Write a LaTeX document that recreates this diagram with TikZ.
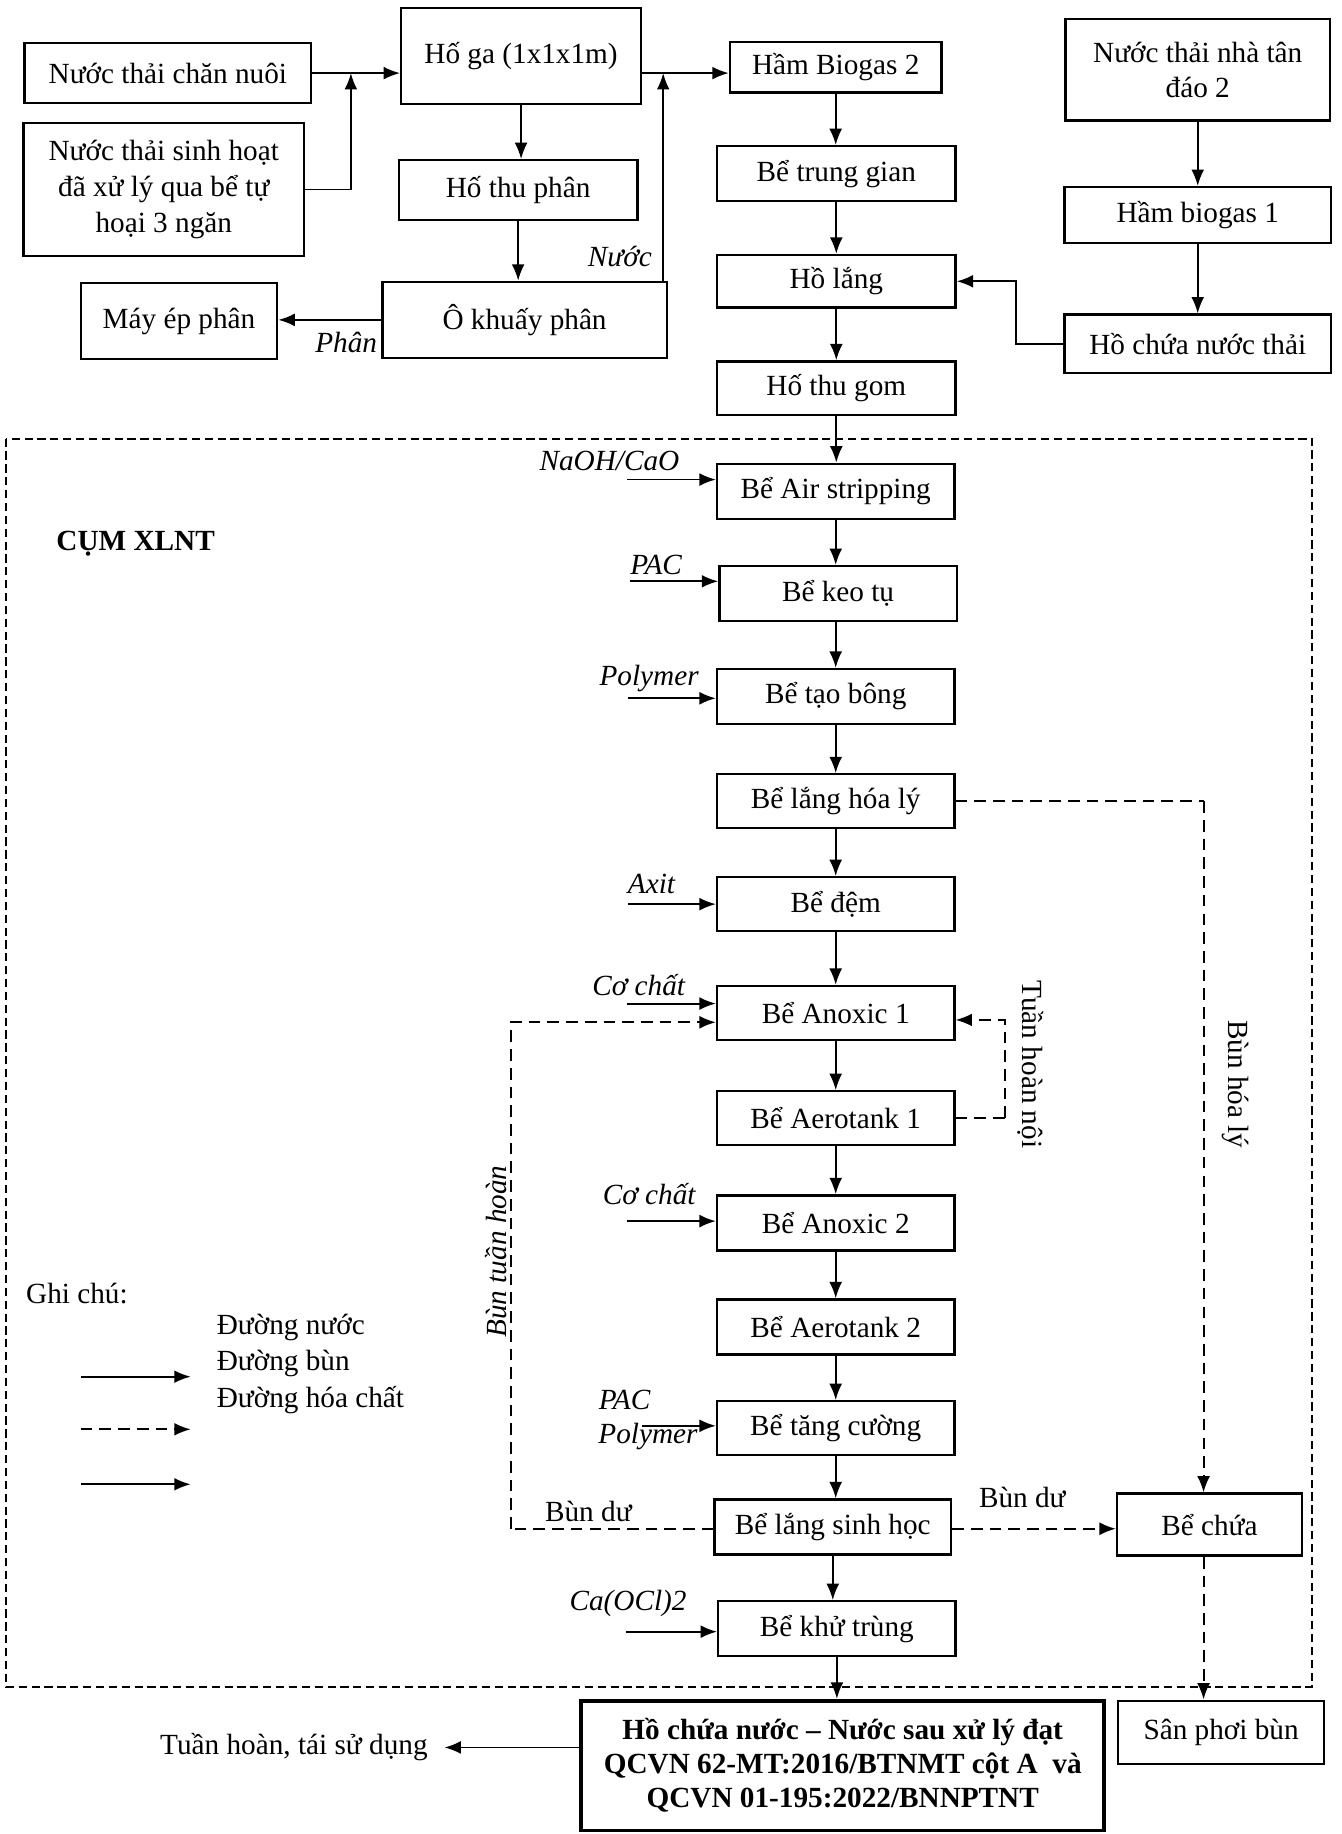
\documentclass[tikz,border=0pt]{standalone}
\usepackage{fontspec}
\setmainfont{Liberation Serif}
\usetikzlibrary{arrows.meta}
\begin{document}
\begin{tikzpicture}[x=0.5pt,y=-0.5pt,
 font=\fontsize{12.5}{15}\selectfont,
 box/.style={draw,line width=1pt,inner sep=0pt,align=center},
 pbox/.style={box,minimum width=101.5pt,minimum height=23.5pt},
 arr/.style={line width=0.8pt,-{Latex[length=7pt,width=5.5pt]}},
 ln/.style={line width=0.8pt},
 dsh/.style={line width=0.8pt,dash pattern=on 5pt off 3pt},
 darr/.style={dsh,-{Latex[length=7pt,width=5.5pt]}},
 outer/.style={line width=0.8pt,dash pattern=on 3.5pt off 2pt},
 lbl/.style={font=\fontsize{12.5}{15}\selectfont\itshape,inner sep=0pt},
 txt/.style={inner sep=0pt},
]
\useasboundingbox (0,0) rectangle (1147,1568);

% ---------- top left ----------
\node[box,minimum width=122.5pt,minimum height=25.5pt] (b1) at (143.5,62.5) {Nước thải chăn nuôi};
\node[box,minimum width=120pt,minimum height=57pt,font=\fontsize{12.5}{15.5}\selectfont] (b2) at (140,162) {Nước thải sinh hoạt\\đã xử lý qua bể tự\\hoại 3 ngăn};
\node[box,minimum width=102.5pt,minimum height=41pt] (hoga) at (445.5,48) {Hố ga (1x1x1m)};
\node[box,minimum width=102pt,minimum height=25.5pt] (hothu) at (443,162.5) {Hố thu phân};
\node[box,minimum width=121.5pt,minimum height=32.5pt] (okhuay) at (448.5,273.5) {Ô khuấy phân};
\node[box,minimum width=84pt,minimum height=32.5pt] (mayep) at (153,274.5) {Máy ép phân};

\coordinate (J) at (300,62.5);
\draw[arr] (b1.east) -- (b1.east -| hoga.west);
\draw[arr] (b2.east) -- (b2.east -| J) -- (J);
\draw[arr] (hoga.south) -- (hoga.south |- hothu.north);
\draw[arr] (hothu.south) -- (hothu.south |- okhuay.north);
\draw[arr] (okhuay.west) -- (okhuay.west -| mayep.east);
\node[lbl] (phan) at (296,293) {Phân};

% ---------- top middle ----------
\node[box,minimum width=90.5pt,minimum height=21.5pt] (biogas2) at (714.5,57.5) {Hầm Biogas 2};
\node[box,minimum width=102pt,minimum height=23.5pt] (trunggian) at (715,148.5) {Bể trung gian};
\node[box,minimum width=102pt,minimum height=22.5pt] (holang) at (715,240.5) {Hồ lắng};
\node[box,minimum width=102pt,minimum height=23pt] (thugom) at (715,332) {Hố thu gom};

\coordinate (N1) at (567,62.5);
\draw[arr] (hoga.east |- b1.east) -- (biogas2.west |- b1.east);
\draw[arr] (okhuay.north -| N1) -- (N1);
\node[lbl] (nuoc) at (530,219) {Nước};

\draw[arr] (biogas2.south) -- (biogas2.south |- trunggian.north);
\draw[arr] (trunggian.south) -- (trunggian.south |- holang.north);
\draw[arr] (holang.south) -- (holang.south |- thugom.north);

% ---------- top right ----------
\node[box,minimum width=113pt,minimum height=43.5pt] (tandao) at (1024,59.5) {Nước thải nhà tân\\đáo 2};
\node[box,minimum width=114pt,minimum height=24pt] (biogas1) at (1024,184) {Hầm biogas 1};
\node[box,minimum width=114pt,minimum height=25pt] (hochua) at (1024,294) {Hồ chứa nước thải};
\draw[arr] (tandao.south) -- (biogas1.north);
\draw[arr] (biogas1.south) -- (hochua.north);
\draw[arr] (hochua.west) -- ++(-40,0) |- (holang.east);

% ---------- outer cluster ----------
\draw[outer] (5,375) rectangle (1122,1442);
\node[txt,font=\fontsize{12.5}{15}\selectfont\bfseries] (cum) at (116,465) {CỤM XLNT};

% ---------- process column ----------
\node[pbox] (air) at (714.5,420) {Bể Air stripping};
\node[pbox] (keotu) at (716.5,507.5) {Bể keo tụ};
\node[pbox] (taobong) at (714.5,595.5) {Bể tạo bông};
\node[pbox,minimum height=23pt] (langhl) at (714.5,685) {Bể lắng hóa lý};
\node[pbox,minimum height=23pt] (dem) at (714.5,773) {Bể đệm};
\node[pbox,minimum height=23pt] (anox1) at (714.5,866) {Bể Anoxic 1};
\node[pbox,minimum height=23pt] (aero1) at (714.5,956) {Bể Aerotank 1};
\node[pbox] (anox2) at (714.5,1045.5) {Bể Anoxic 2};
\node[pbox] (aero2) at (714.5,1134.5) {Bể Aerotank 2};
\node[pbox,minimum height=23pt] (tang) at (714.5,1221) {Bể tăng cường};
\node[pbox,minimum width=101pt] (langsh) at (712,1305.5) {Bể lắng sinh học};
\node[pbox] (khu) at (715.5,1392.5) {Bể khử trùng};
\node[box,minimum width=223.5pt,minimum height=55.5pt,line width=1.6pt,
      font=\fontsize{12.5}{14.5}\selectfont\bfseries] (hcn) at (720.5,1509.5)
      {Hồ chứa nước – Nước sau xử lý đạt\\QCVN 62-MT:2016/BTNMT cột A\ \ và\\QCVN 01-195:2022/BNNPTNT};
\node[box,minimum width=79pt,minimum height=26.5pt] (bechua) at (1034,1303.5) {Bể chứa};
\node[box,minimum width=88pt,minimum height=27pt] (sanphoi) at (1044,1481) {Sân phơi bùn};

\draw[arr] (thugom.south) -- (thugom.south |- air.north);
\draw[arr] (air.south) -- (air.south |- keotu.north);
\draw[arr] (keotu.south -| air.south) -- (air.south |- taobong.north);
\draw[arr] (taobong.south) -- (taobong.south |- langhl.north);
\draw[arr] (langhl.south) -- (langhl.south |- dem.north);
\draw[arr] (dem.south) -- (dem.south |- anox1.north);
\draw[arr] (anox1.south) -- (anox1.south |- aero1.north);
\draw[arr] (aero1.south) -- (aero1.south |- anox2.north);
\draw[arr] (anox2.south) -- (anox2.south |- aero2.north);
\draw[arr] (aero2.south) -- (aero2.south |- tang.north);
\draw[arr] (tang.south) -- (tang.south |- langsh.north);
\draw[arr] (langsh.south) -- (langsh.south |- khu.north);
\draw[arr] (khu.south) -- (khu.south |- hcn.north);

% ---------- chemicals ----------
\coordinate (c1) at (536,410);
\coordinate (c2) at (539,497);
\coordinate (c3) at (537,597);
\coordinate (c4) at (537,773);
\coordinate (c5) at (536,858);
\coordinate (c6) at (536,1044);
\coordinate (c7) at (549,1219);
\coordinate (c8) at (535,1395);
\draw[arr] (c1) -- (c1 -| air.west);
\draw[arr] (c2) -- (c2 -| keotu.west);
\draw[arr] (c3) -- (c3 -| taobong.west);
\draw[arr] (c4) -- (c4 -| dem.west);
\draw[arr] (c5) -- (c5 -| anox1.west);
\draw[arr] (c6) -- (c6 -| anox2.west);
\draw[arr] (c7) -- (c7 -| tang.west);
\draw[arr] (c8) -- (c8 -| khu.west);
\node[lbl] (l1) at (521,394) {NaOH/CaO};
\node[lbl] (l2) at (561,483) {PAC};
\node[lbl] (l3) at (555,580) {Polymer};
\node[lbl] (l4) at (557,756) {Axit};
\node[lbl] (l5) at (546,842) {Cơ chất};
\node[lbl] (l6) at (555,1021) {Cơ chất};
\node[lbl] (l7) at (534,1197) {PAC};
\node[lbl] (l8) at (554,1228) {Polymer};
\node[lbl] (l9) at (537,1371) {Ca(OCl)2};

% ---------- sludge lines ----------
\coordinate (hl1) at (1029,685);
\draw[dsh] (langhl.east) -- (hl1);
\draw[darr] (hl1) -- (hl1 |- bechua.north);
\node[txt,rotate=-90] (bhl) at (1056,927) {Bùn hóa lý};

\coordinate (tn1) at (859,956);
\draw[dsh] (aero1.east) -- (tn1);
\draw[darr] (tn1) |- ([yshift=-3pt]anox1.east);
\node[txt,rotate=-90] (thn) at (881,910) {Tuần hoàn nội};

\coordinate (bt1) at (437,1307);
\draw[dsh] ([yshift=-0.75pt]langsh.west) -- (bt1);
\draw[darr] (bt1) |- ([yshift=-4pt]anox1.west);
\node[txt,rotate=90,font=\fontsize{12.5}{15}\selectfont\itshape] (btn) at (424,1070) {Bùn tuần hoàn};
\node[txt] (bd1) at (503,1292) {Bùn dư};

\draw[darr] ([yshift=-0.75pt]langsh.east) -- ([yshift=-0.75pt]langsh.east -| bechua.west);
\node[txt] (bd2) at (874,1280) {Bùn dư};

\draw[darr] (hl1 |- bechua.south) -- (hl1 |- sanphoi.north);

% ---------- output ----------
\coordinate (out1) at (380,1494);
\draw[arr] (hcn.west |- out1) -- (out1);
\node[txt,anchor=east] (tuan) at (366,1494) {Tuần hoàn, tái sử dụng};

% ---------- legend ----------
\node[txt,anchor=west] (ghi) at (22,1106) {Ghi chú:};
\node[txt,anchor=west] (lg1) at (185,1135) {Đường nước};
\node[txt,anchor=west] (lg2) at (185,1166) {Đường bùn};
\node[txt,anchor=west] (lg3) at (185,1197) {Đường hóa chất};
\coordinate (la1) at (69,1177);
\coordinate (la2) at (69,1222);
\coordinate (la3) at (69,1269);
\draw[arr] (la1) -- ++(94,0);
\draw[darr] (la2) -- ++(94,0);
\draw[arr] (la3) -- ++(94,0);
\end{tikzpicture}
\end{document}
